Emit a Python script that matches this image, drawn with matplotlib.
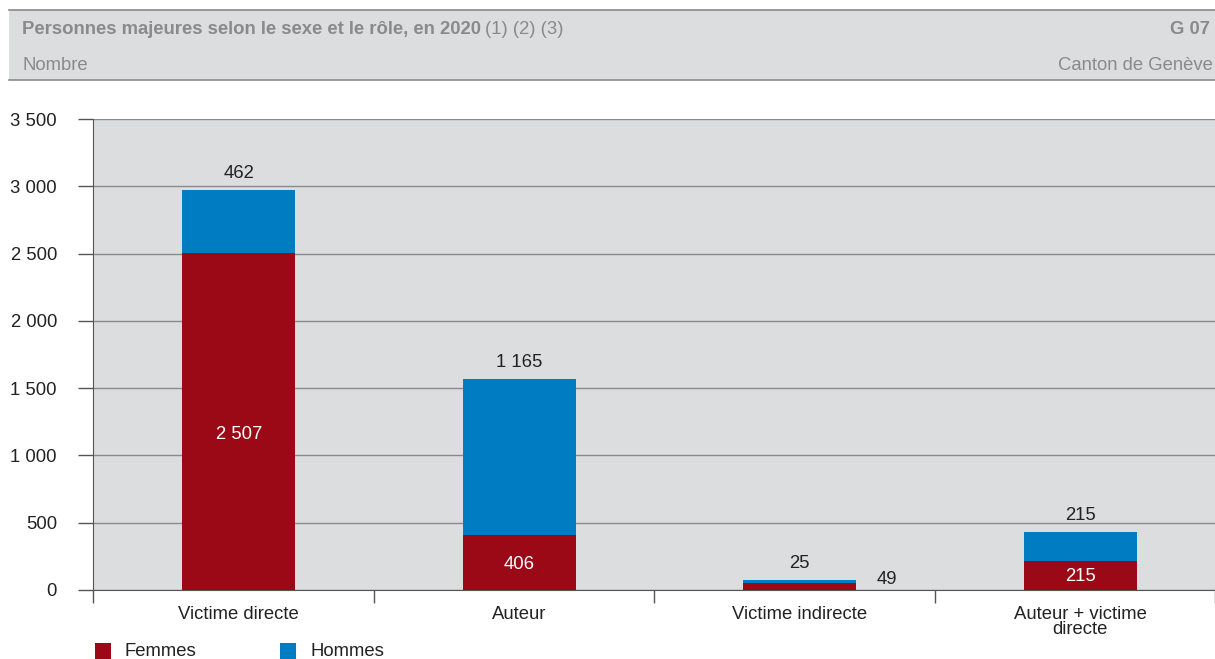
import numpy as np
import matplotlib
matplotlib.use('Agg')
import matplotlib.pyplot as plt
from matplotlib.patches import Rectangle
from matplotlib.lines import Line2D

plt.rcParams['font.family'] = ['Liberation Sans', 'DejaVu Sans']

categories = ['Victime directe', 'Auteur', 'Victime indirecte', 'Auteur + victime\ndirecte']
femmes = [2507, 406, 49, 215]
hommes = [462, 1165, 25, 215]
yticks = [0, 500, 1000, 1500, 2000, 2500, 3000, 3500]
ytick_labels = ['0', '500', '1 000', '1 500', '2 000', '2 500', '3 000', '3 500']

red = '#9b0816'
blue = '#007cc3'
bg = '#dcdddf'
txt = '#222222'
hdr = '#8a8a8a'
fs = 13.3

W, H = 1215, 659
fig = plt.figure(figsize=(W / 100, H / 100), dpi=100)

# header band
fig.patches.append(Rectangle((9 / W, 1 - 80 / H), 1 - 9 / W, 70 / H, transform=fig.transFigure,
                             facecolor=bg, edgecolor='none', zorder=0))
for yy in [10, 80]:
    fig.add_artist(Line2D([9 / W, 1], [1 - yy / H, 1 - yy / H], color='#8a8a8a', lw=1.2))
t1 = fig.text(22 / W, 1 - 29 / H, 'Personnes majeures selon le sexe et le rôle, en 2020', fontsize=fs,
              fontweight='bold', color=hdr, va='center')
fig.canvas.draw()
bb = t1.get_window_extent()
fig.text((bb.x1 + 4) / W, 1 - 29 / H, '(1) (2) (3)', fontsize=fs, color=hdr, va='center')
fig.text(1210 / W, 1 - 29 / H, 'G 07', fontsize=fs, fontweight='bold', color=hdr,
         va='center', ha='right')
fig.text(22 / W, 1 - 65 / H, 'Nombre', fontsize=fs, color=hdr, va='center')
fig.text(1213 / W, 1 - 65 / H, 'Canton de Genève', fontsize=fs, color=hdr,
         va='center', ha='right')

ax = fig.add_axes([93 / W, 69 / H, (W - 93) / W, 471 / H])
ax.set_facecolor(bg)
x = np.arange(len(categories)) + 0.02
w = 0.403
ax.bar(x, femmes, w, color=red, zorder=3, label='Femmes')
ax.bar(x, hommes, w, bottom=femmes, color=blue, zorder=3, label='Hommes')

ax.set_ylim(0, 3500)
ax.set_xlim(-0.5, len(categories) - 0.5)
ax.set_yticks(yticks)
ax.set_yticklabels(ytick_labels, fontsize=fs, color=txt)
ax.yaxis.grid(True, color='#8a8a8a', lw=1, zorder=1)
ax.tick_params(axis='y', length=11, color='#555555', width=1, pad=15)

ax.set_xticks(np.arange(len(categories) + 1) - 0.5)
ax.set_xticklabels([])
ax.tick_params(axis='x', length=9, color='#555555', width=1)
for i, c in enumerate(categories):
    ax.text(x[i], -0.033, c, transform=ax.get_xaxis_transform(), ha='center', va='top',
            fontsize=fs, color=txt, linespacing=0.85)

for s in ['top', 'right']:
    ax.spines[s].set_visible(False)
ax.spines['left'].set_color('#555555')
ax.spines['bottom'].set_color('#555555')

# value labels
for i in range(len(categories)):
    tot = femmes[i] + hommes[i]
    ax.text(x[i], tot + 60, f'{hommes[i]:,}'.replace(',', ' '), ha='center', va='bottom',
            fontsize=fs, color=txt, zorder=4)
    if femmes[i] > 150:
        ax.text(x[i], femmes[i] * 0.46, f'{femmes[i]:,}'.replace(',', ' '), ha='center', va='center',
                fontsize=fs, color='white', zorder=4)
    else:
        ax.text(x[i] + w / 2 + 0.11, femmes[i] / 2 - 10, f'{femmes[i]}', ha='center', va='bottom',
                fontsize=fs, color=txt, zorder=4)

# legend
for lx, name, col in [(95, 'Femmes', red), (280, 'Hommes', blue)]:
    fig.patches.append(Rectangle((lx / W, 0), 16 / W, 16 / H, transform=fig.transFigure,
                                 facecolor=col, edgecolor='none'))
    fig.text((lx + 30) / W, 1 - 651 / H, name, fontsize=fs, color=txt, va='center')

fig.savefig('out.png', dpi=100)
